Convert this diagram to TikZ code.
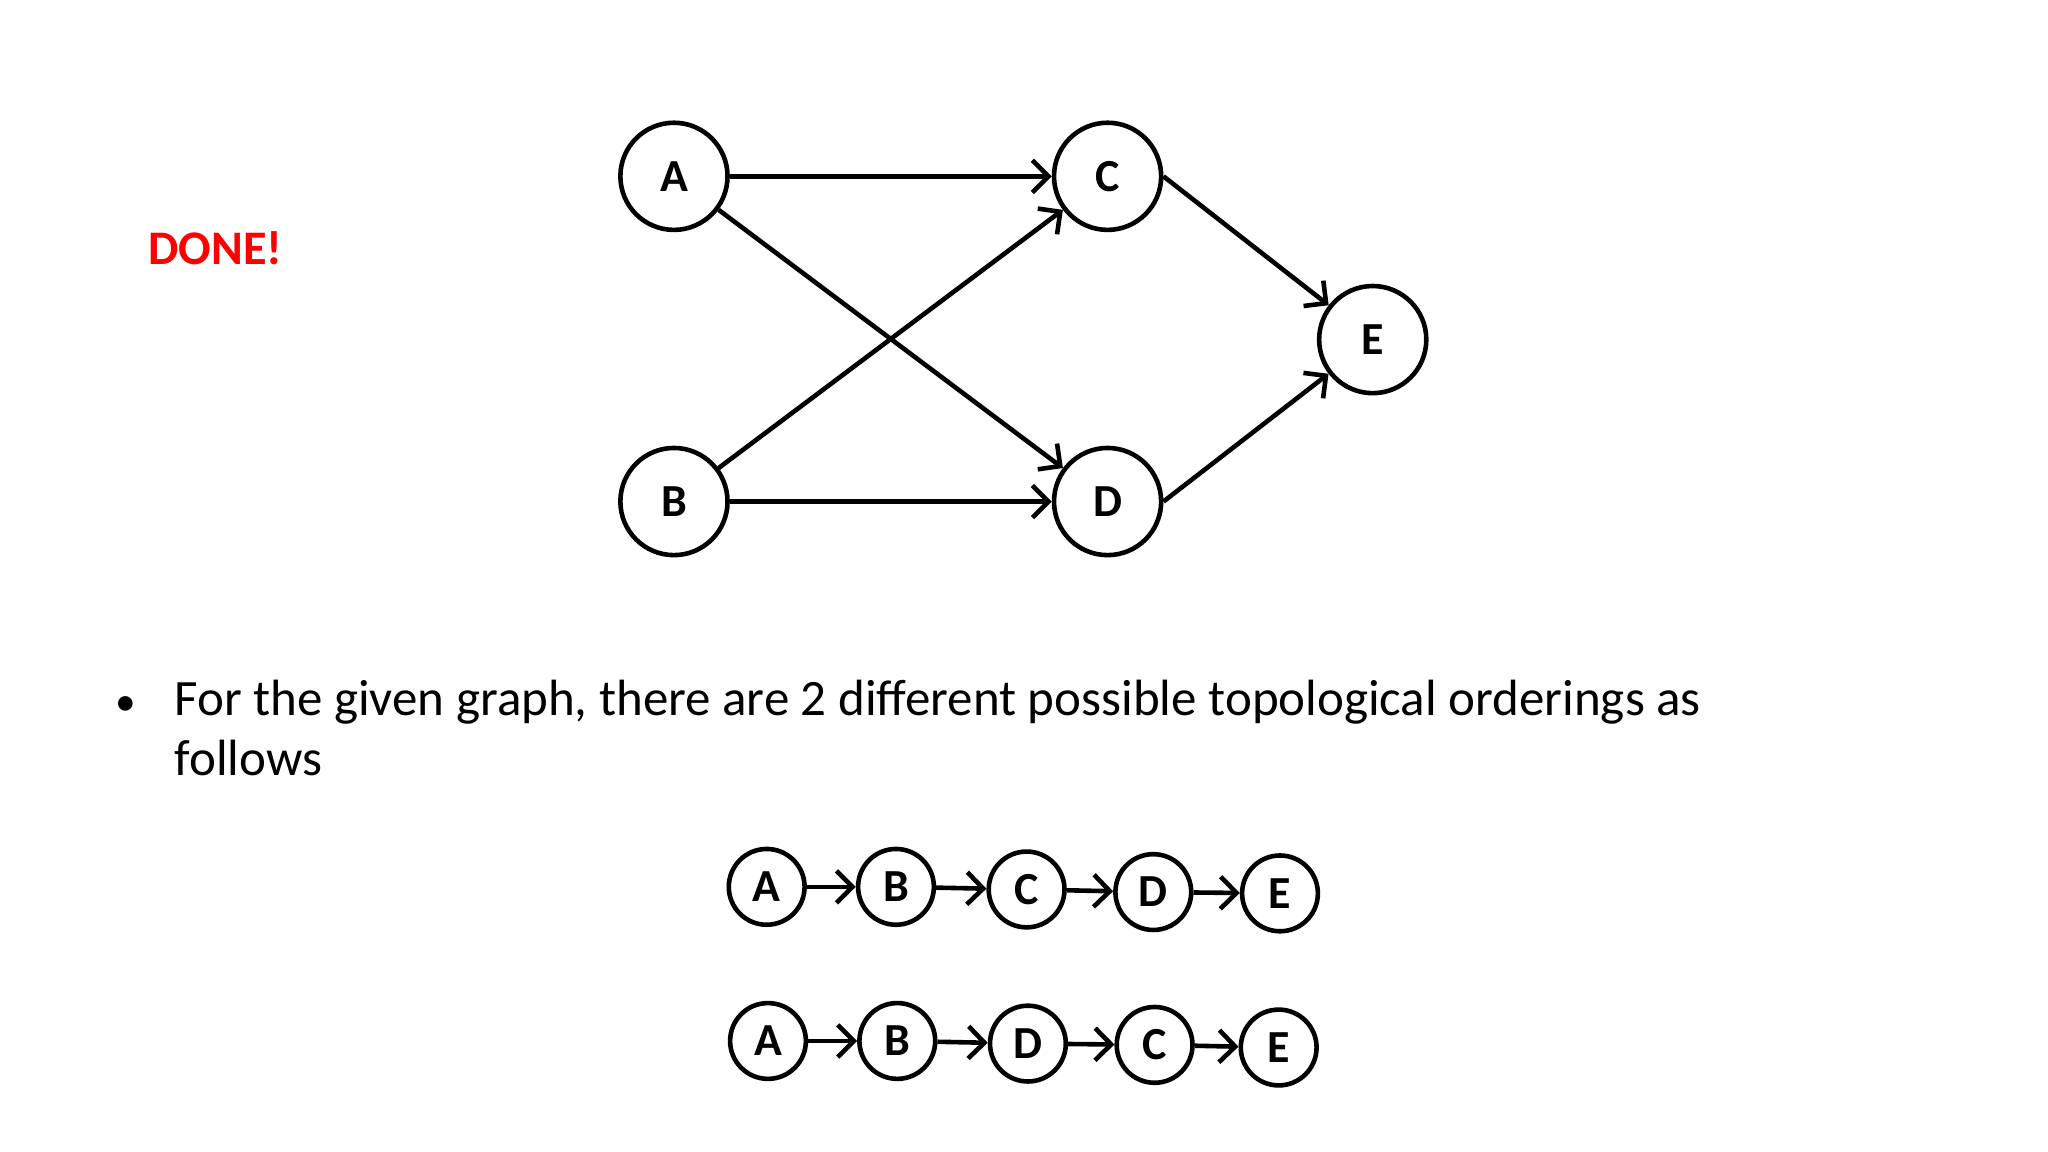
\documentclass[tikz,border=0pt]{standalone}
\usepackage{fontspec}
\setmainfont{Carlito}
\usetikzlibrary{arrows.meta}
\begin{document}
\begin{tikzpicture}[x=0.01cm,y=-0.01cm,
  big/.style={circle,draw,line width=1pt,minimum size=0.82cm,inner sep=0pt,font=\fontsize{10}{10}\selectfont\bfseries},
  small/.style={circle,draw,line width=1pt,minimum size=0.58cm,inner sep=0pt,font=\fontsize{10}{10}\selectfont\bfseries},
  arr/.style={line width=1pt,-{Straight Barb[length=3.5pt,width=7pt,line width=1pt]}}]
\useasboundingbox (0,0) rectangle (1568,882);
\node[big] (A) at (516,135) {A};
\node[big] (C) at (848,135) {C};
\node[big] (E) at (1051,260) {E};
\node[big] (B) at (516,384) {B};
\node[big] (D) at (848,384) {D};
\draw[arr] (A) -- (C);
\draw[arr] (A) -- (D);
\draw[arr] (B) -- (C);
\draw[arr] (B) -- (D);
\draw[arr] (C.east) -- (E);
\draw[arr] (D.east) -- (E);
\node[text=red,font=\fontsize{10.5}{10.5}\selectfont\bfseries] (done) at (165,190) {DONE!};
\node[anchor=base west,font=\fontsize{9}{9}\selectfont,inner sep=0pt] (bul) at (88,548) {•};
\node[anchor=base west,font=\fontsize{11.1}{12}\selectfont,inner sep=0pt] (txt) at (133,548) {For the given graph, there are 2 different possible topological orderings as};
\node[anchor=base west,font=\fontsize{11.1}{12}\selectfont,inner sep=0pt] (txt2) at (133,594) {follows};
\node[small] (a1) at (587,679) {A};
\node[small] (b1) at (686,679) {B};
\node[small] (c1) at (786,681) {C};
\node[small] (d1) at (883,683) {D};
\node[small] (e1) at (980,684) {E};
\draw[arr] (a1) -- (b1);
\draw[arr] (b1) -- (c1);
\draw[arr] (c1) -- (d1);
\draw[arr] (d1) -- (e1);
\node[small] (a2) at (588,797) {A};
\node[small] (b2) at (687,797) {B};
\node[small] (d2) at (787,799) {D};
\node[small] (c2) at (884,800) {C};
\node[small] (e2) at (979,802) {E};
\draw[arr] (a2) -- (b2);
\draw[arr] (b2) -- (d2);
\draw[arr] (d2) -- (c2);
\draw[arr] (c2) -- (e2);
\end{tikzpicture}
\end{document}
